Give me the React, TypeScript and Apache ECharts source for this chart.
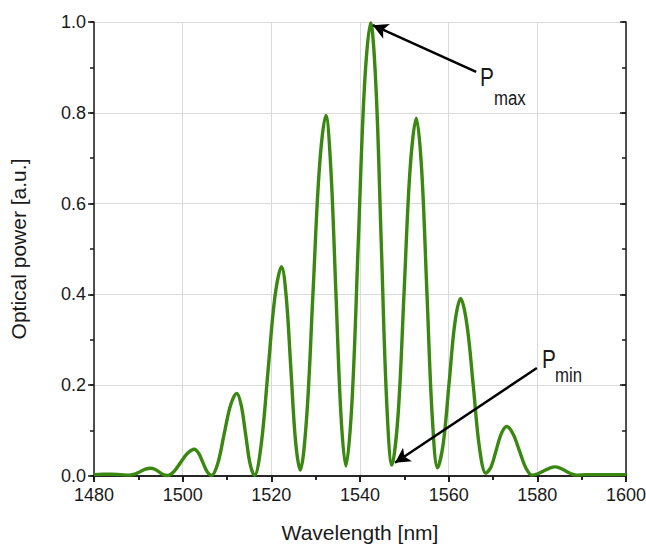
import React, { useEffect, useRef } from "react";
import * as echarts from "echarts";

const wavelengths = [
  1480, 1482, 1484, 1486, 1488.0, 1489.2, 1490.4, 1491.6, 1492.8, 1493.7, 1494.65, 1495.6,
  1496.5, 1498.0, 1499.55, 1501.1, 1502.6, 1503.6, 1504.55, 1505.5,
  1506.5, 1507.9, 1509.35, 1510.8, 1512.2, 1513.2, 1514.2, 1515.2,
  1516.2, 1517.7, 1519.25, 1520.8, 1522.3, 1523.35, 1524.4, 1525.45,
  1526.5, 1527.95, 1529.4, 1530.85, 1532.3, 1533.4, 1534.55, 1535.7,
  1536.8, 1538.2, 1539.6, 1541.0, 1542.4, 1543.6, 1544.8, 1546.0,
  1547.2, 1548.6, 1549.95, 1551.3, 1552.7, 1553.9, 1555.1, 1556.3,
  1557.5, 1558.8, 1560.1, 1561.4, 1562.7, 1564.1, 1565.55, 1566.95,
  1568.4, 1569.6, 1570.75, 1571.9, 1573.1, 1574.5, 1575.95, 1577.4,
  1578.8, 1580.1, 1581.4, 1582.7, 1584.0, 1585.2, 1586.4, 1587.6,
  1588.8, 1591, 1594, 1597, 1600,
];

const opticalPower = [
  0.003, 0.004, 0.004, 0.003, 0.002, 0.004, 0.0095, 0.015, 0.017, 0.015, 0.009, 0.003,
  0.001, 0.0095, 0.03, 0.05, 0.059, 0.05, 0.03, 0.0095,
  0.001, 0.027, 0.092, 0.156, 0.182, 0.156, 0.092, 0.027,
  0.001, 0.068, 0.231, 0.394, 0.461, 0.396, 0.237, 0.078,
  0.013, 0.127, 0.404, 0.68, 0.794, 0.681, 0.408, 0.135,
  0.022, 0.165, 0.511, 0.857, 0.998, 0.857, 0.512, 0.167,
  0.024, 0.136, 0.406, 0.676, 0.788, 0.676, 0.403, 0.13,
  0.018, 0.073, 0.205, 0.337, 0.391, 0.335, 0.199, 0.062,
  0.006, 0.021, 0.058, 0.094, 0.109, 0.093, 0.056, 0.018,
  0.002, 0.005, 0.011, 0.017, 0.02, 0.017, 0.011, 0.005,
  0.002, 0.003, 0.003, 0.003, 0.003,
];

const xTicks = { min: 1480, max: 1600, interval: 20, minorInterval: 10 };
const yTicks = { min: 0, max: 1, interval: 0.2, minorInterval: 0.1 };

// arrow annotations in data coordinates: [start, tip]
const pmaxArrow = [[1566.2, 0.89], [1542.9, 0.993]];
const pminArrow = [[1579.9, 0.238], [1547.9, 0.029]];

const FONT = "'Liberation Sans', Arial, sans-serif";
const BLACK = "#1a1a1a";

export default function App() {
  const ref = useRef<HTMLDivElement>(null);

  useEffect(() => {
    if (!ref.current) return;
    const chart = echarts.init(ref.current, undefined, { renderer: "svg" });
    const data = wavelengths.map((w, i) => [w, opticalPower[i]]);

    const axisLine = { show: true, lineStyle: { color: BLACK, width: 1.5 } };
    const tickStyle = { color: BLACK, width: 1.5 };
    const gridRect = {
      left: 94,
      right: 20,
      top: 22,
      bottom: 70,
      containLabel: false,
      outerBoundsMode: "none",
    };

    const minorX = (position: string, inside: boolean) => ({
      type: "value",
      gridIndex: 1,
      position,
      min: xTicks.min,
      max: xTicks.max,
      interval: xTicks.minorInterval,
      axisLine: { show: false },
      axisTick: { show: true, inside, length: 4, lineStyle: tickStyle },
      axisLabel: { show: false },
      splitLine: { show: false },
    });
    const minorY = (position: string, inside: boolean) => ({
      type: "value",
      gridIndex: 1,
      position,
      min: yTicks.min,
      max: yTicks.max,
      interval: yTicks.minorInterval,
      axisLine: { show: false },
      axisTick: { show: true, inside, length: 4, lineStyle: tickStyle },
      axisLabel: { show: false },
      splitLine: { show: false },
    });

    const option: any = {
      animation: false,
      backgroundColor: "#ffffff",
      textStyle: { fontFamily: FONT },
      grid: [gridRect, { ...gridRect }],
      xAxis: [
        {
          type: "value",
          gridIndex: 0,
          position: "bottom",
          min: xTicks.min,
          max: xTicks.max,
          interval: xTicks.interval,
          name: "Wavelength [nm]",
          nameLocation: "middle",
          nameGap: 46,
          nameTextStyle: { fontSize: 21, color: BLACK, fontFamily: FONT },
          axisLine,
          axisTick: { show: true, inside: false, length: 6, lineStyle: tickStyle },
          axisLabel: {
            fontSize: 18,
            color: BLACK,
            margin: 10,
            fontFamily: FONT,
            formatter: (v: number) => String(v),
          },
          splitLine: { show: true, lineStyle: { color: "#dadada", width: 1 } },
        },
        {
          type: "value",
          gridIndex: 0,
          position: "top",
          min: xTicks.min,
          max: xTicks.max,
          interval: xTicks.interval,
          axisLine,
          axisTick: { show: true, inside: true, length: 6, lineStyle: tickStyle },
          axisLabel: { show: false },
          splitLine: { show: false },
        },
        minorX("bottom", false),
        minorX("top", true),
      ],
      yAxis: [
        {
          type: "value",
          gridIndex: 0,
          position: "left",
          min: yTicks.min,
          max: yTicks.max,
          interval: yTicks.interval,
          name: "Optical power [a.u.]",
          nameLocation: "middle",
          nameGap: 65,
          nameRotate: 90,
          nameTextStyle: { fontSize: 21, color: BLACK, fontFamily: FONT },
          axisLine,
          axisTick: { show: true, inside: false, length: 6, lineStyle: tickStyle },
          axisLabel: {
            fontSize: 18,
            color: BLACK,
            margin: 8,
            fontFamily: FONT,
            formatter: (v: number) => v.toFixed(1),
          },
          splitLine: { show: true, lineStyle: { color: "#dadada", width: 1 } },
        },
        {
          type: "value",
          gridIndex: 0,
          position: "right",
          min: yTicks.min,
          max: yTicks.max,
          interval: yTicks.interval,
          axisLine,
          axisTick: { show: true, inside: true, length: 6, lineStyle: tickStyle },
          axisLabel: { show: false },
          splitLine: { show: false },
        },
        minorY("left", false),
        minorY("right", true),
      ],
      series: [
        {
          type: "line",
          xAxisIndex: 0,
          yAxisIndex: 0,
          data,
          showSymbol: false,
          smooth: 0.35,
          lineStyle: { color: "#3a8812", width: 3.4 },
          itemStyle: { color: "#3a8812" },
          z: 3,
          markLine: {
            silent: true,
            animation: false,
            symbol: ["none", "arrow"],
            symbolSize: [12, 15],
            label: { show: false },
            lineStyle: { color: "#000000", width: 2.5, type: "solid" },
            emphasis: { disabled: true },
            data: [
              [{ coord: pmaxArrow[0] }, { coord: pmaxArrow[1] }],
              [{ coord: pminArrow[0] }, { coord: pminArrow[1] }],
            ],
          },
        },
      ],
      graphic: [
        {
          type: "text",
          x: 480,
          y: 77,
          scaleX: 0.8,
          style: { text: "P", font: `26px ${FONT}`, fill: BLACK, textAlign: "left", verticalAlign: "middle" },
        },
        {
          type: "text",
          x: 494,
          y: 98,
          scaleX: 0.8,
          style: { text: "max", font: `21px ${FONT}`, fill: BLACK, textAlign: "left", verticalAlign: "middle" },
        },
        {
          type: "text",
          x: 542,
          y: 359,
          scaleX: 0.8,
          style: { text: "P", font: `26px ${FONT}`, fill: BLACK, textAlign: "left", verticalAlign: "middle" },
        },
        {
          type: "text",
          x: 555,
          y: 375,
          scaleX: 0.8,
          style: { text: "min", font: `21px ${FONT}`, fill: BLACK, textAlign: "left", verticalAlign: "middle" },
        },
      ],
    };

    chart.setOption(option);
    return () => chart.dispose();
  }, []);

  return (
    <div
      ref={ref}
      style={{ position: "fixed", left: 0, top: 0, width: 646, height: 546, background: "#fff" }}
    />
  );
}
